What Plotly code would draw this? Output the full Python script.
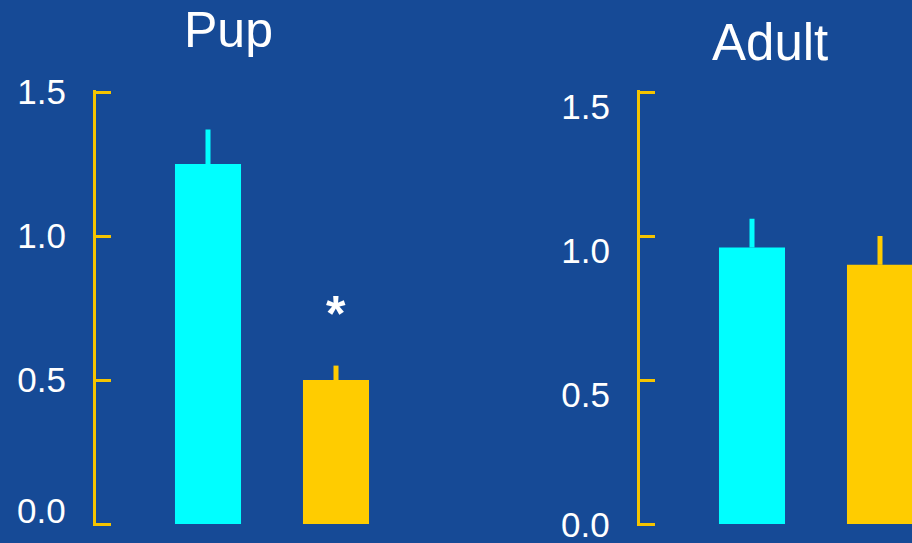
import plotly.graph_objects as go

# Data
groups = ["Group 1", "Group 2"]
pup_means = [1.25, 0.50]
pup_err = [0.12, 0.05]
adult_means = [0.96, 0.90]
adult_err = [0.10, 0.10]
tick_vals = [0.0, 0.5, 1.0, 1.5]
tick_text = ["0.0", "0.5", "1.0", "1.5"]
bar_colors = ["#00FFFF", "#FFCC00"]

W, H = 912, 543
BG = "#164a96"
AXIS_YELLOW = "#F5C400"
FONT = "Liberation Sans, Arial, sans-serif"
TICKFONT = dict(family=FONT, size=35, color="white")

fig = go.Figure()

panels = [("x", "y", pup_means, pup_err), ("x2", "y2", adult_means, adult_err)]
for xa, ya, means, errs in panels:
    for i, g in enumerate(groups):
        fig.add_trace(go.Bar(
            x=[g], y=[means[i]],
            xaxis=xa, yaxis=ya,
            width=0.516,
            marker=dict(color=bar_colors[i], line=dict(width=0)),
            error_y=dict(type="data", symmetric=False, array=[errs[i]],
                         arrayminus=[0], width=0, thickness=5,
                         color=bar_colors[i]),
            showlegend=False,
        ))

# the 0.0 label sits at a different offset than the others, so it is drawn
# as an annotation below and left blank on the axis
axis_text = ["" if v == 0 else t for v, t in zip(tick_vals, tick_text)]

# small padding so plotly keeps the inside ticks at 0.0 and 1.5
pad = 0.006
px_per_unit = (524 - 92) / 1.5
yaxis_style = dict(
    range=[-pad, 1.5 + pad],
    tickmode="array", tickvals=tick_vals, ticktext=axis_text,
    ticks="inside", ticklen=15, tickwidth=3, tickcolor=AXIS_YELLOW,
    showline=True, linecolor=AXIS_YELLOW, linewidth=3,
    showgrid=False, zeroline=False, automargin=False,
    tickfont=TICKFONT,
    ticklabelstandoff=20, ticklabeloverflow="allow",
)
y0 = (H - (524 + pad * px_per_unit)) / H
y1 = (H - (92 - pad * px_per_unit)) / H

zero_labels = [
    dict(text=tick_text[0], xref="x domain", yref="y", x=0, y=tick_vals[0],
         xanchor="right", yanchor="middle", xshift=-28, yshift=14,
         showarrow=False, font=TICKFONT),
    dict(text=tick_text[0], xref="x2 domain", yref="y2", x=0, y=tick_vals[0],
         xanchor="right", yanchor="middle", xshift=-28, yshift=0,
         showarrow=False, font=TICKFONT),
]

fig.update_layout(
    width=W, height=H,
    margin=dict(l=0, r=0, t=0, b=0),
    paper_bgcolor=BG, plot_bgcolor="rgba(0,0,0,0)",
    barmode="overlay",
    xaxis=dict(domain=[96 / W, 464 / W], range=[-0.875, 2.0], type="category",
               visible=False, categoryorder="array", categoryarray=groups),
    xaxis2=dict(domain=[640 / W, 1.0], range=[-0.875, 1.25], type="category",
                visible=False, categoryorder="array", categoryarray=groups,
                anchor="y2"),
    yaxis=dict(domain=[y0, y1], anchor="x", **yaxis_style),
    yaxis2=dict(domain=[y0, y1], anchor="x2", ticklabelshift=15, **yaxis_style),
    annotations=[
        dict(text="Pup", xref="paper", yref="paper", x=229 / W, y=1 - 30 / H,
             showarrow=False, xanchor="center", yanchor="middle",
             font=dict(family=FONT, size=50, color="white")),
        dict(text="Adult", xref="paper", yref="paper", x=770 / W, y=1 - 42 / H,
             showarrow=False, xanchor="center", yanchor="middle",
             font=dict(family=FONT, size=51, color="white")),
        dict(text="<b>*</b>", xref="x", yref="y", x=groups[1], y=0.73,
             showarrow=False, xanchor="center", yanchor="middle",
             font=dict(family=FONT, size=50, color="white")),
    ] + zero_labels,
)

fig.write_html("out.html", config={"displayModeBar": False},
               post_script="document.body.style.margin='0';")
